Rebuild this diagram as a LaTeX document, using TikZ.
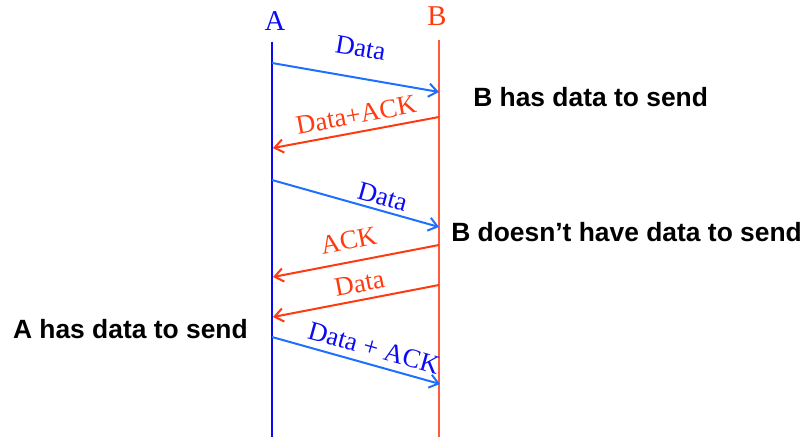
\documentclass[tikz,border=0pt]{standalone}
\usepackage{fontspec}
\setmainfont{Liberation Serif}
\newfontfamily\notefont{Liberation Sans}
\usetikzlibrary{arrows.meta,positioning}
\definecolor{SendBlue}{HTML}{0A0AF5}
\definecolor{MsgBlue}{HTML}{1F6FFF}
\definecolor{RecvRed}{HTML}{FF3A10}
\definecolor{LifeRed}{HTML}{FF5A3C}
\begin{document}
\begin{tikzpicture}[x=0.75pt,y=-0.75pt,
host/.style={inner sep=0pt,font=\fontsize{21.5}{24}\selectfont},
life/.style={line width=0.8pt},
msga/.style={draw=MsgBlue,line width=1.5pt,-{Straight Barb[length=6.5pt,width=10pt]}},
msgb/.style={draw=RecvRed,line width=1.5pt,-{Straight Barb[length=6.5pt,width=10pt]}},
lbl/.style={sloped,inner sep=0pt,font=\fontsize{20}{22}\selectfont},
note/.style={inner sep=0pt,font=\notefont\bfseries\fontsize{19.8}{22}\selectfont}]
\useasboundingbox (0,0) rectangle (808,438);
\node[host,text=SendBlue] (A) at (275,21) {A};
\node[host,text=RecvRed] (B) at (437,16) {B};
\coordinate (Atop) at (272,42);
\coordinate (Abot) at (272,437);
\coordinate (Btop) at (439,40);
\coordinate (Bbot) at (439,437);
\draw[life,SendBlue] (Atop)--(Abot);
\draw[life,LifeRed] (Btop)--(Bbot);
\coordinate (a1) at (272,63);
\coordinate (b1) at (439,92);
\coordinate (b2) at (439,117);
\coordinate (a2) at (273,148);
\coordinate (a3) at (272,180);
\coordinate (b3) at (439,227);
\coordinate (b4) at (439,245);
\coordinate (a4) at (273,277);
\coordinate (b5) at (439,285);
\coordinate (a5) at (273,317);
\coordinate (a6) at (272,337);
\coordinate (b6) at (440,384);
\draw[msga] (a1)--node[lbl,above=15pt,text=SendBlue]{Data} (b1);
\draw[msgb] (b2)--node[lbl,above=5.5pt,pos=0.48,text=RecvRed]{Data+ACK} (a2);
\draw[msga] (a3)--node[lbl,above=3pt,pos=0.64,text=SendBlue]{Data} (b3);
\draw[msgb] (b4)--node[lbl,above=8.5pt,pos=0.52,text=RecvRed]{ACK} (a4);
\draw[msgb] (b5)--node[lbl,above=5pt,pos=0.46,text=RecvRed]{Data} (a5);
\draw[msga] (a6)--node[lbl,above=5pt,pos=0.58,text=SendBlue]{Data + ACK} (b6);
\node[note,anchor=west] (bsend) at (473,97) {B has data to send};
\node[note,anchor=west] (bnone) at (451,232) {B doesn’t have data to send};
\node[note,anchor=east] (asend) at (248,329) {A has data to send};
\end{tikzpicture}
\end{document}
